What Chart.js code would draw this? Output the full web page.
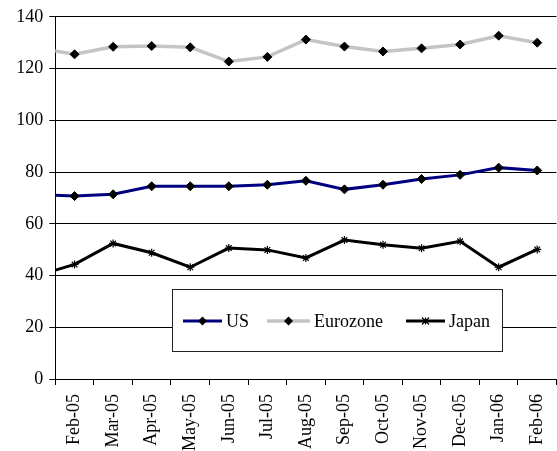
<!DOCTYPE html>
<html>
<head>
<meta charset="utf-8">
<script src="https://cdn.jsdelivr.net/npm/chart.js@4.4.0/dist/chart.umd.min.js"></script>
<style>
  html, body { margin: 0; padding: 0; background: #fff; overflow: hidden; }
  canvas { display: block; }
</style>
</head>
<body>
<canvas id="myChart" width="562" height="451"></canvas>
<script>
'use strict';

////// DATA //////
// Jan-05 sits just off the left edge, only the stub of its line shows
let months = ['Jan-05', 'Feb-05', 'Mar-05', 'Apr-05', 'May-05', 'Jun-05', 'Jul-05',
  'Aug-05', 'Sep-05', 'Oct-05', 'Nov-05', 'Dec-05', 'Jan-06', 'Feb-06'];
let usValues = [71.4, 70.7, 71.4, 74.5, 74.5, 74.5, 75.1, 76.6, 73.3, 75.1, 77.3, 78.9, 81.7, 80.6];
let euroValues = [128.0, 125.5, 128.4, 128.7, 128.2, 122.7, 124.5, 131.2, 128.5, 126.6, 127.8, 129.3, 132.7, 130.0];
let japanValues = [39.8, 44.3, 52.4, 48.8, 43.2, 50.6, 49.9, 46.8, 53.7, 51.9, 50.5, 53.2, 43.2, 50.1];
let yTicks = [0, 20, 40, 60, 80, 100, 120, 140];

const serif = "'Liberation Serif', 'Times New Roman', serif";

////// LEGEND (boxed, inside the plot) //////
function drawMarker(ctx, style, x, y) {
  ctx.save();
  ctx.fillStyle = '#000';
  ctx.strokeStyle = '#000';
  ctx.beginPath();
  if (style === 'rectRot') {
    let r = 4.5;
    ctx.moveTo(x - r, y);
    ctx.lineTo(x, y - r);
    ctx.lineTo(x + r, y);
    ctx.lineTo(x, y + r);
    ctx.closePath();
    ctx.fill();
  } else {
    let r = 3.5;
    ctx.lineWidth = 1.2;
    ctx.moveTo(x - r, y - r); ctx.lineTo(x + r, y + r);
    ctx.moveTo(x + r, y - r); ctx.lineTo(x - r, y + r);
    ctx.moveTo(x, y - r); ctx.lineTo(x, y + r);
    ctx.stroke();
  }
  ctx.restore();
}

const boxLegend = {
  id: 'boxLegend',
  afterDraw(chart, args, opts) {
    const ctx = chart.ctx;
    ctx.save();
    ctx.fillStyle = '#fff';
    ctx.fillRect(opts.left, opts.top, opts.width, opts.height);
    ctx.strokeStyle = '#222';
    ctx.lineWidth = 1;
    ctx.strokeRect(opts.left + 0.5, opts.top + 0.5, opts.width, opts.height);

    ctx.font = '18px ' + serif;
    ctx.textBaseline = 'middle';
    ctx.textAlign = 'left';
    chart.data.datasets.forEach((ds, i) => {
      let item = opts.items[i];
      ctx.strokeStyle = ds.borderColor;
      ctx.lineWidth = ds.borderWidth;
      ctx.beginPath();
      ctx.moveTo(item.x, opts.y);
      ctx.lineTo(item.x + item.w, opts.y);
      ctx.stroke();
      drawMarker(ctx, ds.pointStyle, item.x + item.w / 2, opts.y);
      ctx.fillStyle = '#000';
      ctx.fillText(ds.label, item.x + item.w + 4, opts.y + 1);
    });
    ctx.restore();
  }
};

////// CHART //////
const ctx = document.getElementById('myChart');
const myChart = new Chart(ctx, {
  type: 'line',
  data: {
    labels: months,
    datasets: [{
      label: 'US',
      data: usValues,
      borderColor: '#000080',
      borderWidth: 3,
      pointStyle: 'rectRot',
      pointRadius: 4.5,
      pointBackgroundColor: '#000',
      pointBorderColor: '#000',
      pointBorderWidth: 1,
      tension: 0
    },
    {
      label: 'Eurozone',
      data: euroValues,
      borderColor: '#c4c4c4',
      borderWidth: 3.5,
      pointStyle: 'rectRot',
      pointRadius: 4.5,
      pointBackgroundColor: '#000',
      pointBorderColor: '#000',
      pointBorderWidth: 1,
      tension: 0
    },
    {
      label: 'Japan',
      data: japanValues,
      borderColor: '#000',
      borderWidth: 3,
      pointStyle: 'star',
      pointRadius: 4,
      pointBorderColor: '#000',
      pointBorderWidth: 1.2,
      tension: 0
    }]
  },
  options: {
    responsive: false,
    animation: false,
    layout: { padding: { top: 13, right: 2.5, bottom: 0, left: 0 } },
    plugins: {
      legend: { display: false },
      tooltip: { enabled: false },
      boxLegend: {
        left: 172, top: 289, width: 330, height: 62, y: 321,
        items: [{ x: 183, w: 39 }, { x: 267, w: 43 }, { x: 406, w: 39 }]
      }
    },
    scales: {
      x: {
        type: 'category',
        min: 'Feb-05',
        offset: true,
        grid: {
          offset: true,
          drawOnChartArea: false,
          drawTicks: true,
          tickLength: 6,
          color: '#000'
        },
        border: { color: '#000', width: 1 },
        ticks: {
          autoSkip: false,
          maxRotation: 90,
          minRotation: 90,
          padding: 9,
          color: '#000',
          font: { family: serif, size: 18 }
        },
        afterFit(scale) {
          scale.height = 72;
          scale.paddingLeft = 0;
          scale.paddingRight = 0;
        }
      },
      y: {
        min: 0,
        max: 140,
        afterBuildTicks(scale) {
          scale.ticks = yTicks.map(v => ({ value: v }));
        },
        grid: {
          color: '#000',
          lineWidth: 1,
          tickLength: 6
        },
        border: { color: '#000', width: 1 },
        ticks: {
          padding: 6,
          color: '#000',
          font: { family: serif, size: 18 }
        },
        afterFit(scale) {
          scale.width = 55.3;
        }
      }
    }
  },
  plugins: [boxLegend]
});
</script>
</body>
</html>
